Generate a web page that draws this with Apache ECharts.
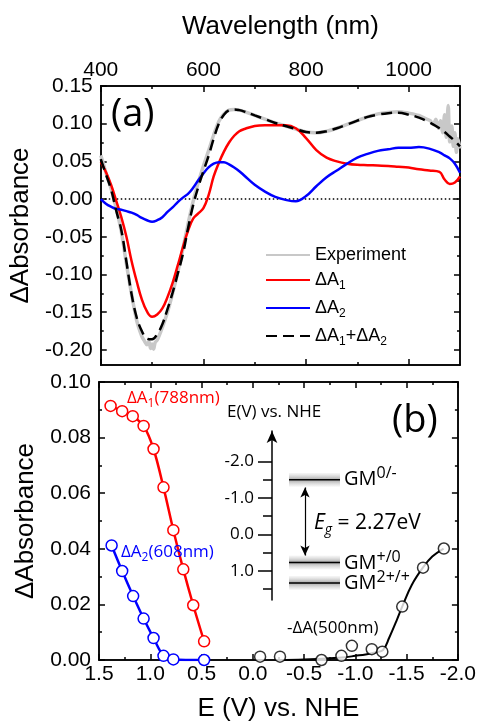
<!DOCTYPE html>
<html>
<head>
<meta charset="utf-8">
<title>Spectroelectrochemistry (a) (b)</title>
<script src="https://cdn.jsdelivr.net/npm/echarts@6.0.0/dist/echarts.min.js"></script>
<style>
	html, body { margin: 0; padding: 0; background: #fff; }
	#chart { width: 479px; height: 723px; }
</style>
</head>
<body>
<div id="chart"></div>
<script>
// ---- (a) difference spectra ----
var wl = [400, 410, 420, 430, 440, 450, 460, 470, 480, 490, 500, 510, 520, 530, 540, 550, 560, 570, 580, 590,
	600, 610, 620, 630, 640, 650, 660, 670, 680, 700, 720, 740, 760, 780, 800, 820, 840, 860, 880, 900,
	920, 940, 960, 980, 1000, 1020, 1040, 1060, 1070, 1080, 1090, 1100];
var dA1 = [0.049, 0.036, 0.019, -0.002, -0.024, -0.050, -0.082, -0.109, -0.133, -0.149, -0.156, -0.153, -0.145, -0.130, -0.111, -0.088, -0.064, -0.042, -0.026, -0.019,
	-0.012, 0.005, 0.030, 0.048, 0.063, 0.075, 0.084, 0.090, 0.093, 0.097, 0.098, 0.098, 0.098, 0.094, 0.081, 0.065, 0.055, 0.050, 0.047, 0.0455,
	0.045, 0.0445, 0.044, 0.043, 0.042, 0.0395, 0.038, 0.036, 0.026, 0.020, 0.022, 0.030];
var dA2 = [0.000, -0.006, -0.010, -0.013, -0.014, -0.016, -0.018, -0.021, -0.025, -0.028, -0.030, -0.028, -0.024, -0.017, -0.011, -0.004, 0.002, 0.007, 0.015, 0.025,
	0.034, 0.042, 0.047, 0.049, 0.049, 0.046, 0.042, 0.037, 0.031, 0.019, 0.010, 0.003, -0.001, -0.003, 0.004, 0.017, 0.029, 0.038, 0.047, 0.055,
	0.060, 0.064, 0.066, 0.068, 0.068, 0.069, 0.067, 0.062, 0.058, 0.054, 0.047, 0.035];
var dSum = [0.053, 0.033, 0.013, -0.015, -0.041, -0.083, -0.126, -0.157, -0.175, -0.185, -0.186, -0.179, -0.166, -0.146, -0.124, -0.099, -0.073, -0.039, -0.008, 0.016,
	0.037, 0.057, 0.080, 0.100, 0.112, 0.118, 0.119, 0.118, 0.116, 0.111, 0.106, 0.101, 0.097, 0.093, 0.089, 0.088, 0.090, 0.094, 0.099, 0.104,
	0.109, 0.112, 0.114, 0.1145, 0.112, 0.108, 0.102, 0.094, 0.089, 0.083, 0.077, 0.070];

// experiment trace (noisy at the min and at the red end)
var expWl = [400, 405, 410, 420, 430, 440, 450, 460, 470, 480, 485, 490, 494, 497, 500, 503, 506, 510, 520, 530,
	540, 550, 560, 570, 580, 590, 600, 610, 620, 630, 640, 650, 660, 670, 680, 700, 720, 740, 760, 780,
	800, 820, 840, 860, 880, 900, 920, 940, 960, 980, 1000, 1020, 1035, 1042, 1048, 1053, 1058, 1062, 1066, 1070,
	1073, 1077, 1080, 1084, 1087, 1090, 1093, 1096, 1100];
var expAbs = [0.058, 0.047, 0.035, 0.014, -0.012, -0.043, -0.086, -0.126, -0.161, -0.182, -0.188, -0.193, -0.189, -0.198, -0.192, -0.199, -0.190, -0.187, -0.170, -0.150,
	-0.125, -0.097, -0.066, -0.033, -0.003, 0.022, 0.044, 0.064, 0.085, 0.103, 0.113, 0.118, 0.119, 0.118, 0.116, 0.111, 0.106, 0.101, 0.097, 0.093,
	0.089, 0.088, 0.090, 0.094, 0.099, 0.104, 0.109, 0.113, 0.115, 0.116, 0.114, 0.111, 0.106, 0.104, 0.099, 0.106, 0.094, 0.104, 0.088, 0.112,
	0.082, 0.124, 0.076, 0.097, 0.070, 0.088, 0.062, 0.080, 0.067];

// ---- (b) absorbance vs potential ----
var e788 = [1.387, 1.274, 1.171, 1.065, 0.968, 0.871, 0.775, 0.678, 0.581, 0.475];
var a788 = [0.0914, 0.0895, 0.0877, 0.0842, 0.0759, 0.0621, 0.0467, 0.0326, 0.0197, 0.0067];
var e608 = [1.377, 1.274, 1.167, 1.065, 0.968, 0.871, 0.775, 0.475];
var a608 = [0.0412, 0.0320, 0.0230, 0.0149, 0.0079, 0.0015, 0.0002, 0.0];
var e500 = [-0.071, -0.265, -0.670, -0.864, -0.966, -1.160, -1.263, -1.457, -1.660, -1.863];
var a500 = [0.0012, 0.0012, 0.0, 0.0015, 0.0051, 0.0039, 0.0030, 0.0192, 0.0332, 0.0401];
// fitted curve through the 500 nm points
var fitE500 = [-0.25, -0.5, -0.75, -0.9, -1.0, -1.1, -1.2, -1.27, -1.33, -1.4, -1.46, -1.55, -1.66, -1.75, -1.86];
var fitA500 = [0.0, 0.0002, 0.0006, 0.001, 0.0015, 0.002, 0.0028, 0.0036, 0.008, 0.014, 0.0195, 0.027, 0.0333, 0.0372, 0.0401];

// inset: energy levels (V vs NHE)
var levelE = [-1.5, 0.77, 1.33];

// tick values
var wlMajor = [400, 600, 800, 1000];
var wlMinor = [500, 700, 900];
var absMajorA = [-0.2, -0.15, -0.1, -0.05, 0, 0.05, 0.1, 0.15];
var absMinorA = [-0.175, -0.125, -0.075, -0.025, 0.025, 0.075, 0.125];
var eMajor = [1.5, 1.0, 0.5, 0.0, -0.5, -1.0, -1.5, -2.0];
var eMinor = [1.25, 0.75, 0.25, -0.25, -0.75, -1.25, -1.75];
var absMajorB = [0, 0.02, 0.04, 0.06, 0.08, 0.1];
var absMinorB = [0.01, 0.03, 0.05, 0.07, 0.09];
var insetMajor = [-2, -1, 0, 1];
var insetMinor = [-1.5, -0.5, 0.5, 1.5];

function zip(xs, ys) {
	var out = [];
	for (var i = 0; i < xs.length; i++) out.push([xs[i], ys[i]]);
	return out;
}

var AX = 'Liberation Sans';
var TX = 'Open Sans';

// one axis of the frame: line + inward ticks at given values
function frameAxis(grid, pos, min, max, ticks, len, extra) {
	var a = {
		type: 'value', gridIndex: grid, position: pos, min: min, max: max,
		axisLine: { show: true, onZero: false, lineStyle: { color: '#000', width: 1.5 } },
		axisTick: { show: true, inside: true, length: len, customValues: ticks, lineStyle: { color: '#000', width: 1.5 } },
		axisLabel: { show: false },
		splitLine: { show: false }
	};
	for (var k in extra) a[k] = extra[k];
	return a;
}

function labelOpt(values, digits, margin) {
	return {
		show: true, customValues: values, margin: margin,
		fontFamily: AX, fontSize: 21, color: '#000',
		formatter: function (v) { return (+v).toFixed(digits); }
	};
}

var nameStyle = { fontFamily: AX, fontSize: 26, color: '#000' };

var xAxes = [
	// panel a, top wavelength axis
	frameAxis(0, 'top', 400, 1100, wlMajor, 6, {
		name: 'Wavelength (nm)', nameLocation: 'middle', nameGap: 46, nameTextStyle: nameStyle,
		axisLabel: labelOpt(wlMajor, 0, 5)
	}),
	frameAxis(0, 'top', 400, 1100, wlMinor, 3),
	frameAxis(0, 'bottom', 400, 1100, wlMajor, 6),
	frameAxis(0, 'bottom', 400, 1100, wlMinor, 3),
	// panel b, potential axis (runs from +1.5 to -2.0)
	frameAxis(1, 'bottom', -2.0, 1.5, eMajor, 6, {
		inverse: true,
		name: 'E (V) vs. NHE', nameLocation: 'middle', nameGap: 36, nameTextStyle: nameStyle,
		axisLabel: labelOpt(eMajor, 1, 4)
	}),
	frameAxis(1, 'bottom', -2.0, 1.5, eMinor, 3, { inverse: true }),
	frameAxis(1, 'top', -2.0, 1.5, eMajor, 6, { inverse: true }),
	frameAxis(1, 'top', -2.0, 1.5, eMinor, 3, { inverse: true }),
	// inset (hidden x)
	{ type: 'value', gridIndex: 2, min: 0, max: 150, show: false }
];

var yAxes = [
	frameAxis(0, 'left', -0.22, 0.15, absMajorA, 6, {
		name: 'ΔAbsorbance', nameLocation: 'middle', nameGap: 62, nameTextStyle: nameStyle,
		axisLabel: labelOpt(absMajorA, 2, 8)
	}),
	frameAxis(0, 'left', -0.22, 0.15, absMinorA, 3),
	frameAxis(0, 'right', -0.22, 0.15, absMajorA, 6),
	frameAxis(0, 'right', -0.22, 0.15, absMinorA, 3),
	frameAxis(1, 'left', 0, 0.1, absMajorB, 6, {
		name: 'ΔAbsorbance', nameLocation: 'middle', nameGap: 58, nameTextStyle: nameStyle,
		axisLabel: labelOpt(absMajorB, 2, 8)
	}),
	frameAxis(1, 'left', 0, 0.1, absMinorB, 3),
	frameAxis(1, 'right', 0, 0.1, absMajorB, 6),
	frameAxis(1, 'right', 0, 0.1, absMinorB, 3),
	// inset energy axis with arrow on top
	{
		type: 'value', gridIndex: 2, position: 'left', inverse: true, min: -2.84, max: 1.8,
		axisLine: { show: true, onZero: false, symbol: ['none', 'arrow'], symbolSize: [8, 12], lineStyle: { color: '#000', width: 1.5 } },
		axisTick: { show: true, inside: false, length: 14, customValues: insetMajor, lineStyle: { color: '#000', width: 1.5 } },
		axisLabel: { show: true, customValues: insetMajor, margin: 18, fontFamily: TX, fontSize: 17, color: '#000',
			formatter: function (v) { return (+v).toFixed(1); } },
		splitLine: { show: false }
	},
	{
		type: 'value', gridIndex: 2, position: 'left', inverse: true, min: -2.84, max: 1.8,
		axisLine: { show: false },
		axisTick: { show: true, inside: false, length: 9, customValues: insetMinor, lineStyle: { color: '#000', width: 1.5 } },
		axisLabel: { show: false },
		splitLine: { show: false }
	}
];

function richText(size, color, supScale) {
	var sp = supScale || 0.72;
	return {
		n: { fontFamily: TX, fontSize: size, fill: color, color: color, lineHeight: Math.round(size * 1.4) },
		i: { fontFamily: TX, fontSize: size, fontStyle: 'italic', fill: color, color: color, lineHeight: Math.round(size * 1.4) },
		s: { fontFamily: TX, fontSize: Math.round(size * 0.68), fill: color, color: color, verticalAlign: 'bottom', lineHeight: Math.round(size * 0.68) },
		si: { fontFamily: TX, fontSize: Math.round(size * 0.68), fontStyle: 'italic', fill: color, color: color, verticalAlign: 'bottom', lineHeight: Math.round(size * 0.68) },
		p: { fontFamily: TX, fontSize: Math.round(size * sp), fill: color, color: color, verticalAlign: 'top', lineHeight: Math.round(size * sp) }
	};
}

function note(x, y, text, size, color, supScale) {
	return {
		type: 'text', x: x, y: y, z: 100,
		style: { text: text, fill: color, align: 'left', verticalAlign: 'middle', rich: richText(size, color, supScale) }
	};
}

var gray = '#c8c8c8', red = '#ff0000', blue = '#0000ff';

var series = [
	{ name: 'zero', type: 'line', xAxisIndex: 0, yAxisIndex: 0, data: [[400, 0], [1100, 0]], symbol: 'none',
		lineStyle: { color: '#000', width: 1.5, type: [1.5, 2.5] } },
	{ name: 'Experiment', type: 'line', xAxisIndex: 0, yAxisIndex: 0, data: zip(expWl, expAbs), symbol: 'none', smooth: 0.3,
		lineStyle: { color: gray, width: 3.5 }, itemStyle: { color: gray } },
	{ name: 'ΔA1', type: 'line', xAxisIndex: 0, yAxisIndex: 0, data: zip(wl, dA1), symbol: 'none', smooth: 0.4,
		lineStyle: { color: red, width: 2.5 }, itemStyle: { color: red } },
	{ name: 'ΔA2', type: 'line', xAxisIndex: 0, yAxisIndex: 0, data: zip(wl, dA2), symbol: 'none', smooth: 0.4,
		lineStyle: { color: blue, width: 2.5 }, itemStyle: { color: blue } },
	{ name: 'ΔA1+ΔA2', type: 'line', xAxisIndex: 0, yAxisIndex: 0, data: zip(wl, dSum), symbol: 'none', smooth: 0.4,
		lineStyle: { color: '#000', width: 2.5, type: [11, 6] }, itemStyle: { color: '#000' } },

	// panel b
	{ type: 'line', xAxisIndex: 4, yAxisIndex: 4, data: zip(e788, a788), smooth: 0.3, symbol: 'circle', symbolSize: 11,
		lineStyle: { color: red, width: 2.5 }, itemStyle: { color: '#fff', borderColor: red, borderWidth: 1.5 } },
	{ type: 'line', xAxisIndex: 4, yAxisIndex: 4, data: zip(e608, a608), smooth: 0.3, symbol: 'circle', symbolSize: 11,
		lineStyle: { color: blue, width: 2.5 }, itemStyle: { color: '#fff', borderColor: blue, borderWidth: 1.5 } },
	{ type: 'line', xAxisIndex: 4, yAxisIndex: 4, data: zip(fitE500, fitA500), smooth: 0.4, symbol: 'none',
		lineStyle: { color: '#000', width: 2 } },
	{ type: 'scatter', xAxisIndex: 4, yAxisIndex: 4, data: zip(e500, a500), symbol: 'circle', symbolSize: 11,
		itemStyle: { color: '#fff', borderColor: '#000', borderWidth: 1.5 }, z: 5 }
];

// inset levels: line plus a soft grey band
var levelX0 = 17, levelX1 = 68, bandHalf = 0.19;
var bandFill = new echarts.graphic.LinearGradient(0, 0, 0, 1, [
	{ offset: 0, color: 'rgba(200,200,200,0.15)' },
	{ offset: 0.5, color: 'rgba(150,150,150,0.85)' },
	{ offset: 1, color: 'rgba(200,200,200,0.15)' }
]);
for (var i = 0; i < levelE.length; i++) {
	var s = {
		type: 'line', xAxisIndex: 8, yAxisIndex: 8, symbol: 'none',
		data: [[levelX0, levelE[i]], [levelX1, levelE[i]]],
		lineStyle: { color: '#000', width: 1.5 },
		markArea: { silent: true, itemStyle: { color: bandFill },
			data: [[{ coord: [levelX0, levelE[i] - bandHalf] }, { coord: [levelX1, levelE[i] + bandHalf] }]] }
	};
	if (i == 0) {
		// Eg double arrow between GM0/- and GM+/0
		s.markLine = {
			silent: true, symbol: ['arrow', 'arrow'], symbolSize: [7, 10],
			lineStyle: { color: '#000', width: 1.2, type: 'solid' }, label: { show: false },
			data: [[{ coord: [33, levelE[0] + 0.21] }, { coord: [33, levelE[1] - 0.19] }]]
		};
	}
	series.push(s);
}

var legendRich = {
	n: { fontFamily: AX, fontSize: 18, color: '#000', lineHeight: 24 },
	s: { fontFamily: AX, fontSize: 12, color: '#000', verticalAlign: 'bottom', lineHeight: 12 }
};

var option = {
	animation: false,
	backgroundColor: '#fff',
	grid: [
		{ left: 99, top: 86, width: 361, height: 279 },
		{ left: 99, top: 382, width: 361, height: 279 },
		{ left: 272, top: 431, width: 150, height: 169 }
	],
	xAxis: xAxes,
	yAxis: yAxes,
	legend: {
		data: ['Experiment', 'ΔA1', 'ΔA2', 'ΔA1+ΔA2'],
		orient: 'vertical', left: 260, top: 241,
		itemWidth: 44, itemHeight: 14, itemGap: 7,
		itemStyle: { color: 'rgba(0,0,0,0)', borderWidth: 0, opacity: 0 },
		textStyle: { fontFamily: AX, fontSize: 18, color: '#000', rich: legendRich },
		formatter: function (name) {
			if (name == 'Experiment') return '{n|Experiment}';
			return name.replace(/ΔA(\d)/g, '{n|ΔA}{s|$1}').replace('}+{', '}{n|+}{');
		}
	},
	series: series,
	graphic: [
		note(111, 115, '{n|(a)}', 38, '#000'),
		note(392, 421, '{n|(b)}', 38, '#000'),
		note(127, 398, '{n|ΔA}{s|1}{n|(788nm)}', 17, red),
		note(121, 552, '{n|ΔA}{s|2}{n|(608nm)}', 17, blue),
		note(287, 628, '{n|-ΔA(500nm)}', 17, '#000'),
		note(227, 412, '{n|E(V) vs. NHE}', 17, '#000'),
		note(344, 479, '{n|GM}{p|0/-}', 20, '#000', 0.8),
		note(344, 563, '{n|GM}{p|+/0}', 20, '#000', 0.8),
		note(344, 583, '{n|GM}{p|2+/+}', 20, '#000', 0.8),
		note(314, 523, '{i|E}{si|g}{n| = 2.27eV}', 21, '#000')
	]
};

var myChart = echarts.init(document.getElementById('chart'));
myChart.setOption(option);
</script>
</body>
</html>
